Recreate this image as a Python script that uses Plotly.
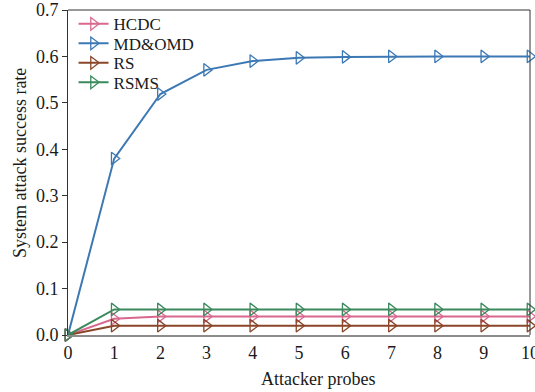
import plotly.graph_objects as go

probes = [0, 1, 2, 3, 4, 5, 6, 7, 8, 9, 10]
hcdc = [0.0, 0.035, 0.040, 0.040, 0.040, 0.040, 0.040, 0.040, 0.040, 0.040, 0.040]
mdomd = [0.0, 0.380, 0.519, 0.571, 0.590, 0.597, 0.599, 0.600, 0.600, 0.600, 0.600]
rs = [0.0, 0.020, 0.020, 0.020, 0.020, 0.020, 0.020, 0.020, 0.020, 0.020, 0.020]
rsms = [0.0, 0.055, 0.055, 0.055, 0.055, 0.055, 0.055, 0.055, 0.055, 0.055, 0.055]

names = ["HCDC", "MD&OMD", "RS", "RSMS"]
values = [hcdc, mdomd, rs, rsms]
colors = ["#d9688f", "#3c79b4", "#8a4628", "#3b8a5d"]
legend_ids = ["legend", "legend2", "legend3", "legend4"]
legend_rows_y = [0.956, 0.896, 0.836, 0.776]

SERIF = "Liberation Serif"
TXT = "#1a1a1a"

fig = go.Figure()
for name, vals, col, lg in zip(names, values, colors, legend_ids):
    fig.add_trace(go.Scatter(
        x=probes, y=vals, name=name, mode="lines+markers", legend=lg,
        line=dict(color=col, width=2),
        marker=dict(symbol="triangle-right-open", size=11, color=col, line=dict(width=1.3, color=col)),
        cliponaxis=False,
    ))

legend_common = dict(xanchor="left", yanchor="middle", bgcolor="rgba(0,0,0,0)",
                     font=dict(family=SERIF, size=17, color=TXT), itemwidth=30,
                     borderwidth=0)
layout_legends = {}
for lg, ly in zip(legend_ids, legend_rows_y):
    layout_legends[lg] = dict(x=0.012, y=ly, **legend_common)

fig.update_layout(
    width=535, height=392,
    margin=dict(l=68, r=5, t=10, b=57, autoexpand=False),
    paper_bgcolor="white", plot_bgcolor="white",
    font=dict(family=SERIF, size=18, color=TXT),
    showlegend=True,
    **layout_legends,
)
fig.update_xaxes(
    range=[0, 10], tickvals=list(range(11)), showgrid=False, zeroline=False,
    showline=True, linecolor="#8c8c8c", linewidth=2, mirror=False, automargin=False,
    ticks="", ticklabeloverflow="allow", tickfont=dict(family=SERIF, size=18, color=TXT),
)
fig.update_yaxes(
    range=[0, 0.7], tickvals=[0, 0.1, 0.2, 0.3, 0.4, 0.5, 0.6, 0.7],
    ticktext=["0.0", "0.1", "0.2", "0.3", "0.4", "0.5", "0.6", "0.7"],
    showgrid=False, zeroline=False, showline=True, linecolor="#333", linewidth=1,
    mirror=False, ticks="outside", ticklen=5, tickcolor="#333", automargin=False,
    ticklabeloverflow="allow", tickfont=dict(family=SERIF, size=18, color=TXT),
)
fig.add_annotation(text="Attacker probes", xref="paper", yref="paper", x=0.541, y=-0.1354,
                   xanchor="center", yanchor="middle", showarrow=False,
                   font=dict(family=SERIF, size=18, color=TXT))
fig.add_annotation(text="System attack success rate", xref="paper", yref="paper", x=-0.1039, y=0.529,
                   xanchor="center", yanchor="middle", showarrow=False, textangle=-90,
                   font=dict(family=SERIF, size=18, color=TXT))
fig.add_shape(type="line", xref="paper", yref="paper", x0=0, x1=1, y0=1, y1=1,
              line=dict(color="#333", width=1))
fig.add_shape(type="line", xref="paper", yref="paper", x0=1, x1=1, y0=0, y1=1,
              line=dict(color="#333", width=1))

fig.write_html("out.html", config={"displayModeBar": False},
               post_script="document.body.style.margin='0';document.body.style.padding='0';")
